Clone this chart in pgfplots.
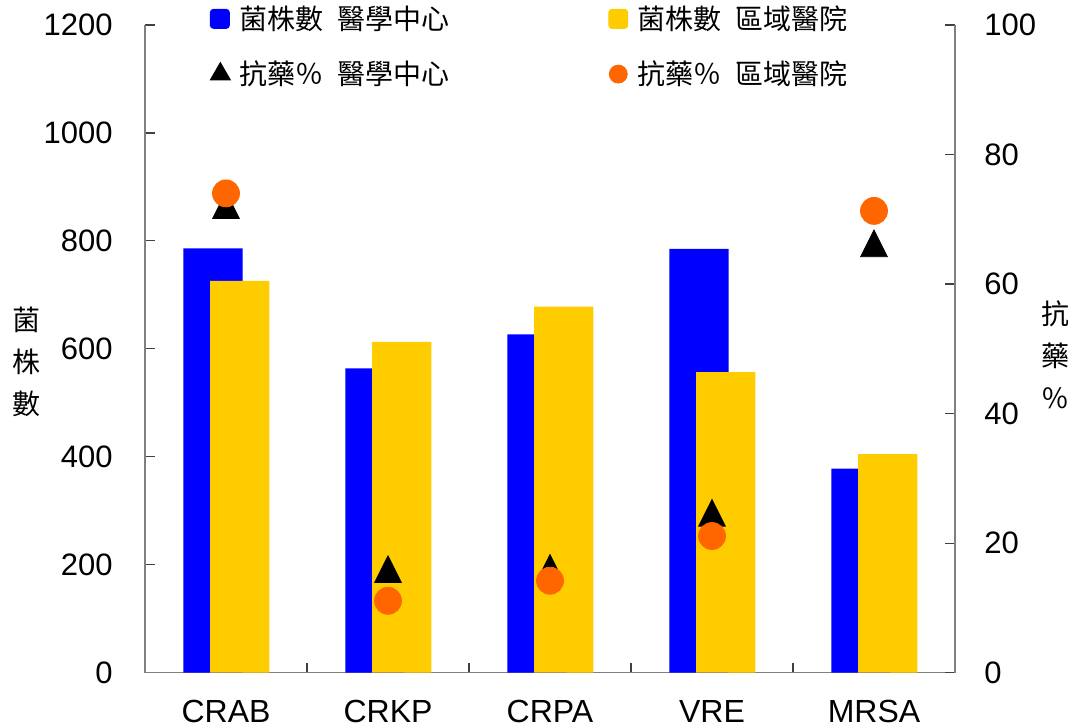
\documentclass[border=0pt]{standalone}
\usepackage{fontspec}
\setmainfont{Liberation Sans}
\newfontfamily\cjk{Noto Sans CJK TC}
\usepackage{pgfplots}
\usepackage{pgfplotstable}
\pgfplotsset{compat=1.18}

\definecolor{barblue}{HTML}{0000FF}
\definecolor{baryellow}{HTML}{FFCC00}
\definecolor{dotorange}{HTML}{FF6600}
\definecolor{axisgray}{HTML}{808080}

% isolate counts (left axis)
\pgfplotstableread{
x  center  regional
1  786  726
2  564  613
3  627  678
4  785  557
5  378  405
}\counts

% resistance % (right axis)
\pgfplotstableread{
x  center  regional
1  71.5  74.0
2  15.3  11.1
3  15.5  14.2
4  24.0  21.1
5  65.6  71.3
}\resist

\pgfplotsset{
  base/.style={
    scale only axis, width=405bp, height=323.85bp,
    at={(72.5bp,27.65bp)}, anchor=south west,
    xmin=0.5, xmax=5.5,
    axis line style={axisgray, line width=0.8bp},
    /pgf/number format/assume math mode=true,
    /pgf/number format/set thousands separator={},
    tick label style={font=\fontsize{15.5bp}{18bp}\selectfont, inner sep=0pt},
  },
}

\begin{document}
\begin{tikzpicture}
\path[use as bounding box] (0,0) rectangle (538.5bp,364bp);

\begin{axis}[base,
  axis x line*=bottom, axis y line*=left,
  tick align=inside, major tick length=5bp, minor tick length=5bp,
  tick style={black!75, line width=0.6bp},
  ymin=0, ymax=1200, ytick={0,200,...,1200},
  xtick={1,2,3,4,5}, xticklabels={CRAB,CRKP,CRPA,VRE,MRSA},
  minor xtick={1.5,2.5,3.5,4.5},
  major x tick style={draw=none},
  xticklabel style={font=\fontsize{16bp}{18bp}\selectfont, anchor=north, yshift=-13.65bp},
  yticklabel style={anchor=east, xshift=-16bp},
  ylabel={菌\\株\\數},
  ylabel style={rotate=-90, align=center, font=\cjk\fontsize{14bp}{21bp}\selectfont,
    at={(axis description cs:-0.1469,0.4797)}, anchor=center},
]
\addplot[ybar, bar width=29.65bp, bar shift=-6.5bp, fill=barblue, draw=none]
  table[x=x, y=center] {\counts};
\addplot[ybar, bar width=29.65bp, bar shift=6.85bp, fill=baryellow, draw=none]
  table[x=x, y=regional] {\counts};
\end{axis}

\begin{axis}[base,
  axis y line*=right, axis x line=none,
  tick align=inside, major tick length=5bp,
  tick style={black!75, line width=0.6bp},
  ymin=0, ymax=100, ytick={0,20,...,100},
  yticklabel style={anchor=west, xshift=14.5bp},
  ylabel={抗\\藥\\\%},
  ylabel style={rotate=-90, align=center, font=\cjk\fontsize{14bp}{21bp}\selectfont,
    at={(axis description cs:1.1235,0.4905)}, anchor=center},
  clip=false,
  legend columns=2,
  legend cell align=left,
  legend style={draw=none, fill=none, inner sep=0pt, outer sep=0pt,
    at={(axis description cs:0.0802,1.0301)}, anchor=north west,
    font=\cjk\fontsize{14bp}{16bp}\selectfont,
    nodes={inner sep=0pt},
    row sep=14.25bp,
    /tikz/every odd column/.append style={column sep=4.5bp},
    /tikz/column 2/.style={column sep=79.5bp}},
]
\addlegendimage{legend image code/.code={\fill[barblue, rounded corners=1.5bp] (0bp,-4.75bp) rectangle (9.5bp,4.75bp);}}
\addlegendentry{菌株數\hspace{0.5em}醫學中心}
\addlegendimage{legend image code/.code={\fill[baryellow, rounded corners=1.5bp] (0bp,-4.75bp) rectangle (9.5bp,4.75bp);}}
\addlegendentry{菌株數\hspace{0.5em}區域醫院}
\addlegendimage{legend image code/.code={\draw[black, fill=black, mark=triangle*, mark size=5.8bp] plot coordinates {(5bp,0bp)};}}
\addlegendentry{抗藥％\hspace{0.5em}醫學中心}
\addlegendimage{legend image code/.code={\draw[dotorange, fill=dotorange, mark=*, mark size=4.5bp] plot coordinates {(4.75bp,0bp)};}}
\addlegendentry{抗藥％\hspace{0.5em}區域醫院}

\addplot[black, only marks, mark=triangle*, mark size=7.7bp,
  mark options={yscale=1.15, draw=black, fill=black}, forget plot]
  table[x=x, y=center] {\resist};
\addplot[dotorange, only marks, mark=*, mark size=6.75bp,
  mark options={draw=dotorange, fill=dotorange}, forget plot]
  table[x=x, y=regional] {\resist};
\end{axis}
\end{tikzpicture}
\end{document}
